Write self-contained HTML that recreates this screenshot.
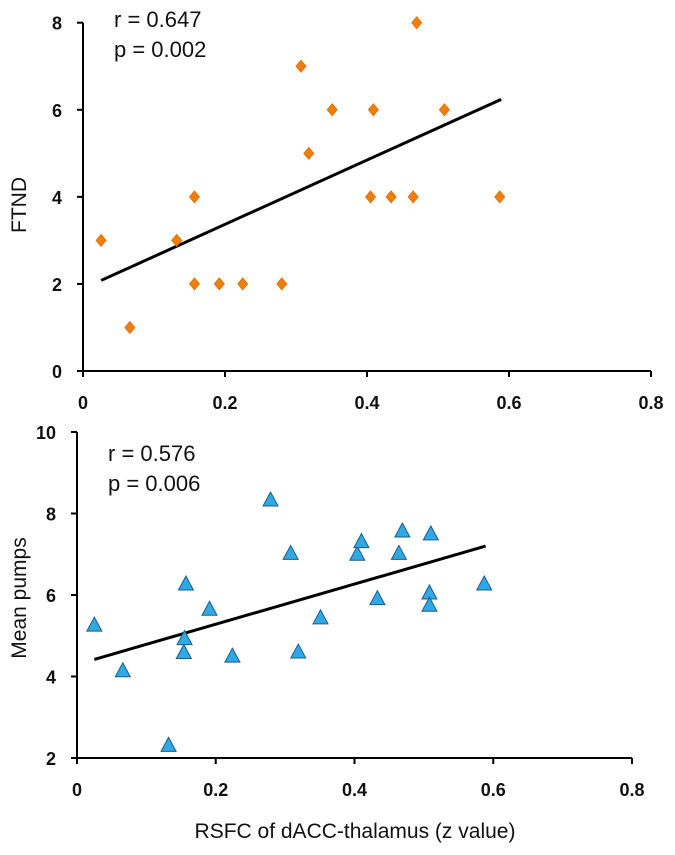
<!DOCTYPE html>
<html><head><meta charset="utf-8"><style>
body{margin:0;background:#fff;width:675px;height:850px;overflow:hidden}
svg text{font-family:"Liberation Sans",sans-serif}
.tk{font-size:18px;font-weight:bold;fill:#111}
</style></head><body>
<svg id="c" width="675" height="850"></svg>
<script>
const topX=[0.0255,0.066,0.132,0.157,0.157,0.192,0.225,0.280,0.307,0.318,0.351,0.405,0.409,0.434,0.465,0.470,0.509,0.587];
const topY=[3,1,3,4,2,2,2,2,7,5,6,4,6,4,4,8,6,4];
const topFit=[[0.0255,2.08],[0.589,6.24]];
const topYTicks=[0,2,4,6,8];
const botX=[0.025,0.066,0.132,0.154,0.155,0.157,0.191,0.224,0.279,0.308,0.319,0.351,0.404,0.410,0.433,0.464,0.469,0.510,0.508,0.508,0.587];
const botY=[5.26,4.14,2.31,4.59,4.93,6.27,5.65,4.50,8.33,7.02,4.60,5.44,7.00,7.31,5.91,7.02,7.57,7.50,6.05,5.75,6.27];
const botFit=[[0.025,4.42],[0.589,7.20]];
const botYTicks=[2,4,6,8,10];
const xTicks=[0,0.2,0.4,0.6,0.8];
const NS="http://www.w3.org/2000/svg";
const svg=document.getElementById('c');
function mk(t,a,p){const e=document.createElementNS(NS,t);for(const k in a)e.setAttribute(k,a[k]);(p||svg).appendChild(e);return e;}
function panel(name,x0,x1,yb,yt,ymin,ymax,yt2,xs,ys,fit,marker,ann,ytitle,ytitleY){
  const g=mk('g',{});
  
  
  const sx=v=>x0+(x1-x0)*v/0.8, sy=v=>yb-(yb-yt)*(v-ymin)/(ymax-ymin);
  const ax=mk('path',{d:`M${x0} ${yt}V${yb}H${x1}`,stroke:'#000','stroke-width':2,fill:'none'},g);
  
  
  yt2.forEach(v=>{const y=sy(v);mk('line',{x1:x0-6,x2:x0,y1:y,y2:y,stroke:'#000','stroke-width':2},g);
    const t=mk('text',{x:x0-21,y:y+7,'text-anchor':'end',class:'tk'},g);t.textContent=v;
    
    });
  xTicks.forEach(v=>{const x=sx(v);mk('line',{x1:x,x2:x,y1:yb,y2:yb+6,stroke:'#000','stroke-width':2},g);
    const t=mk('text',{x:x,y:yb+38,'text-anchor':'middle',class:'tk'},g);t.textContent=v;
    
    });
  const ln=mk('line',{x1:sx(fit[0][0]),y1:sy(fit[0][1]),x2:sx(fit[1][0]),y2:sy(fit[1][1]),stroke:'#000','stroke-width':3},g);
  
  
  xs.forEach((v,i)=>{const x=sx(v),y=sy(ys[i]);let m;
    if(marker==='d'){m=mk('path',{d:`M${x} ${y-6}L${x+5} ${y}L${x} ${y+6}L${x-5} ${y}Z`,fill:'#f07f0a',stroke:'#e06a00','stroke-width':0.8},g);}
    else{m=mk('path',{d:`M${x} ${y-8}L${x+7.5} ${y+6}L${x-7.5} ${y+6}Z`,fill:'#2fa8e6',stroke:'#1b5d8a','stroke-width':1},g);}
    
    });
  ann.forEach((s,i)=>{const t=mk('text',{x:x0+31,y:ann.y+i*30,'font-size':22,fill:'#111'},g);t.textContent=s;
    
    });
  const yl=mk('text',{x:0,y:0,'font-size':21,fill:'#111','text-anchor':'middle',transform:`translate(26 ${ytitleY}) rotate(-90)`},g);
  yl.textContent=ytitle;
  
  
}
const a1=['r = 0.647','p = 0.002'];a1.y=27;
const a2=['r = 0.576','p = 0.006'];a2.y=461;
panel('ftnd-panel',83,651,371,22.7,0,8,topYTicks,topX,topY,topFit,'d',a1,'FTND',205);
panel('pumps-panel',77,632,758,432,2,10,botYTicks,botX,botY,botFit,'t',a2,'Mean pumps',598);
const xt=mk('text',{x:355,y:838,'font-size':21,fill:'#111','text-anchor':'middle'});
xt.textContent='RSFC of dACC-thalamus (z value)';


</script>
</body></html>
